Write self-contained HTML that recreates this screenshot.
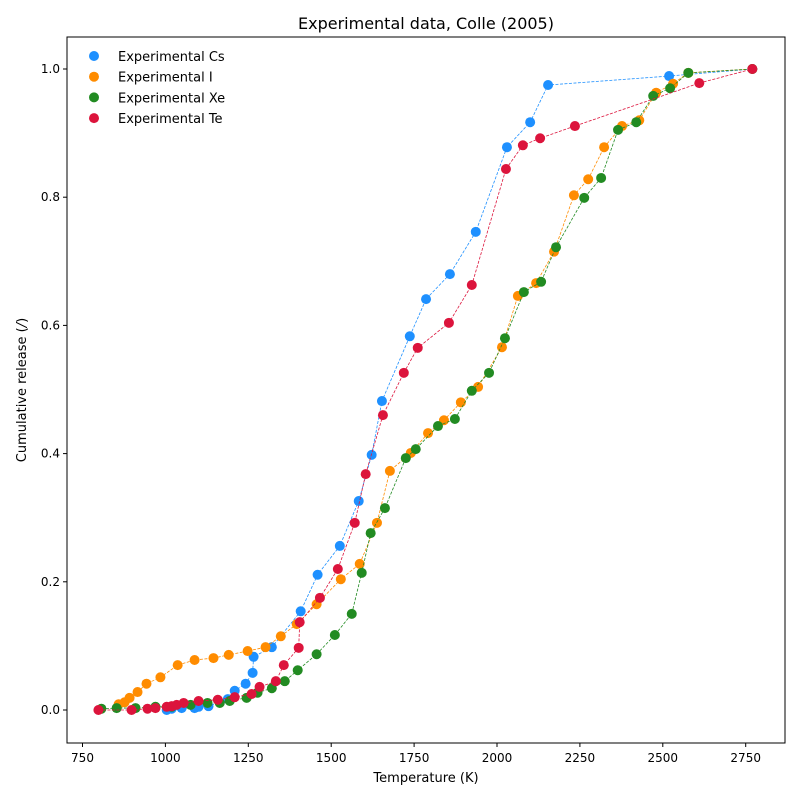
<!DOCTYPE html>
<html><head><meta charset="utf-8"><style>
body{margin:0;background:#fff;font-family:"Liberation Sans","DejaVu Sans",sans-serif}
svg text{font-family:"DejaVu Sans","Liberation Sans",sans-serif}
</style></head><body>
<svg id="chart" width="800" height="800" viewBox="0 0 800 800" xmlns="http://www.w3.org/2000/svg">
<rect width="800" height="800" fill="#fff"/>
<text x="426" y="29" font-size="16" text-anchor="middle">Experimental data, Colle (2005)</text>
<g id="plot"></g>
<rect x="67" y="37" width="718" height="706" fill="none" stroke="#000" stroke-width="1"/>
<text x="426" y="782" font-size="13" text-anchor="middle">Temperature (K)</text>
<text transform="translate(26,390) rotate(-90)" font-size="13" text-anchor="middle">Cumulative release (<tspan font-style="italic">/</tspan>)</text>
<g id="legend"></g>
</svg>
<script>
const csT=[1004,1019,1049,1088,1100,1130,1188,1209,1242,1263,1266,1321,1408,1459,1526,1583,1622,1653,1737,1786,1858,1936,2030,2100,2154,2519,2770];
const csV=[0,.002,.003,.003,.005,.006,.017,.030,.041,.058,.083,.098,.154,.211,.256,.326,.398,.482,.583,.641,.680,.746,.878,.917,.975,.989,1.0];
const iT=[859,877,892,916,943,985,1037,1088,1145,1191,1248,1302,1348,1396,1456,1529,1586,1638,1677,1740,1792,1840,1891,1943,2015,2063,2118,2172,2232,2275,2323,2377,2429,2480,2531,2577,2770];
const iV=[.009,.012,.019,.028,.041,.051,.070,.078,.081,.086,.092,.098,.115,.134,.165,.204,.228,.292,.373,.401,.432,.452,.480,.504,.566,.646,.666,.715,.803,.828,.878,.911,.920,.963,.977,.994,1.0];
const xeT=[807,853,910,970,1019,1076,1127,1164,1194,1245,1278,1321,1360,1399,1456,1511,1562,1592,1619,1662,1725,1755,1822,1873,1924,1976,2024,2081,2133,2178,2263,2314,2365,2420,2471,2522,2577,2770];
const xeV=[.002,.003,.003,.005,.005,.008,.011,.011,.014,.019,.027,.034,.045,.062,.087,.117,.150,.214,.276,.315,.393,.407,.443,.454,.498,.526,.580,.652,.668,.722,.799,.830,.905,.917,.958,.970,.994,1.0];
const teT=[798,898,946,970,1004,1019,1034,1055,1100,1158,1209,1260,1284,1333,1357,1402,1405,1466,1520,1571,1604,1656,1719,1761,1855,1924,2027,2078,2130,2235,2610,2770];
const teV=[0,0,.002,.003,.005,.006,.008,.011,.014,.016,.020,.025,.036,.045,.070,.097,.137,.175,.220,.292,.368,.460,.526,.565,.604,.663,.844,.881,.892,.911,.978,1.0];
const seriesNames=["Experimental Cs","Experimental I","Experimental Xe","Experimental Te"];
const xTicks=[750,1000,1250,1500,1750,2000,2250,2500,2750];
const yTicks=[0,0.2,0.4,0.6,0.8,1.0];

const NS="http://www.w3.org/2000/svg";
const X=t=>82.5+(t-750)*0.3316;
const Y=v=>710-v*641;
const plot=document.getElementById('plot');
function mk(tag,attrs,parent){const e=document.createElementNS(NS,tag);for(const k in attrs)e.setAttribute(k,attrs[k]);(parent||plot).appendChild(e);return e;}
xTicks.forEach(t=>{
  const l=mk('line',{x1:X(t),x2:X(t),y1:743,y2:747,stroke:'#000'});
  
  
  const tx=mk('text',{x:X(t),y:762,'font-size':12,'text-anchor':'middle'});tx.textContent=t;
  
  
});
yTicks.forEach(v=>{
  const l=mk('line',{x1:63,x2:67,y1:Y(v),y2:Y(v),stroke:'#000'});
  
  
  const tx=mk('text',{x:60,y:Y(v)+4,'font-size':12,'text-anchor':'end'});tx.textContent=v.toFixed(1);
  
  
});
const series=[[csT,csV,'#1e90ff'],[iT,iV,'#ff8c00'],[xeT,xeV,'#228b22'],[teT,teV,'#dc143c']];
series.forEach((s,si)=>{
  const g=mk('g',{});
  
  
  const pts=s[0].map((t,i)=>X(t)+','+Y(s[1][i])).join(' ');
  const pl=mk('polyline',{points:pts,fill:'none',stroke:s[2],'stroke-width':0.8,'stroke-dasharray':'3,1.5'},g);
  
  
  s[0].forEach((t,i)=>{
    const c=mk('circle',{cx:X(t),cy:Y(s[1][i]),r:5,fill:s[2]},g);
    
    
  });
});
const lg=document.getElementById('legend');
seriesNames.forEach((n,i)=>{
  const y=56+i*20.7;
  const c=mk('circle',{cx:94,cy:y,r:5,fill:series[i][2]},lg);
  
  
  const t=mk('text',{x:118,y:y+5,'font-size':13},lg);t.textContent=n;
  
  
});
</script>
</body></html>
